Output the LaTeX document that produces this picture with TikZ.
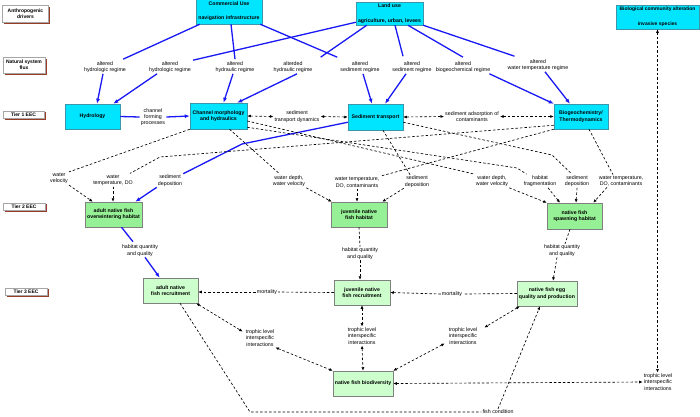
\documentclass[tikz,border=0pt]{standalone}
\usepackage{fontspec}
\setmainfont{Liberation Sans}
\usetikzlibrary{arrows.meta,calc,shadows}
\definecolor{cyanfill}{RGB}{0,229,255}
\definecolor{cyanedge}{RGB}{60,150,170}
\definecolor{gtwo}{RGB}{150,240,150}
\definecolor{gthree}{RGB}{204,255,204}
\definecolor{shadowbrown}{RGB}{150,60,40}
\definecolor{bluel}{RGB}{25,25,245}
\newcommand\lblfont{\fontsize{5.3}{6.3}\selectfont}
\newcommand\boxfont{\fontsize{5.2}{6.3}\selectfont\bfseries}
\newcommand\smallboxfont{\fontsize{5}{6}\selectfont\bfseries}
\tikzset{
  lbl/.style={draw=gray!70, fill=white, line width=0.4pt, font=\smallboxfont, align=center, inner sep=0pt,
    drop shadow={shadow xshift=1.5pt, shadow yshift=-1.5pt, fill=shadowbrown, opacity=1}},
  cbox/.style={draw=cyanedge, fill=cyanfill, line width=0.5pt, font=\boxfont, align=center, inner sep=0pt},
  gbox/.style={draw=gray, fill=gtwo, line width=0.5pt, font=\boxfont, align=center, inner sep=0pt},
  hbox/.style={draw=gray, fill=gthree, line width=0.5pt, font=\boxfont, align=center, inner sep=0pt},
  txt/.style={font=\lblfont, align=center, inner sep=1pt},
  bl/.style={draw=bluel, line width=1.3pt},
  bla/.style={bl, -{Latex[length=5pt,width=4pt]}},
  ds/.style={draw=black, line width=0.65pt, dash pattern=on 2.5pt off 2pt},
  dsa/.style={ds, -{Latex[length=3.5pt,width=3pt]}},
  dsb/.style={ds, {Latex[length=3.5pt,width=3pt]}-{Latex[length=3.5pt,width=3pt]}}
}
\begin{document}
\begin{tikzpicture}[x=1pt,y=-1pt]
\useasboundingbox (0,0) rectangle (700,416);
\fill[white] (0,0) rectangle (700,416);

% left tier labels
\node[lbl, minimum width=46pt, minimum height=17pt] (drv) at (25.5,13.5) {Anthropogenic\\drivers};
\node[lbl, minimum width=42pt, minimum height=16pt] (flux) at (24,65) {Natural system\\flux};
\node[lbl, minimum width=41pt, minimum height=7.5pt] (tone) at (23.5,114.5) {Tier 1 EEC};
\node[lbl, minimum width=42pt, minimum height=7.5pt] (ttwo) at (24,206.5) {Tier 2 EEC};
\node[lbl, minimum width=42pt, minimum height=7.5pt] (tthree) at (26,291.5) {Tier 3 EEC};

% cyan boxes
\node[cbox, minimum width=66pt, minimum height=26pt] (com) at (229,11) {Commercial Use\\[8pt]navigation infrastructure};
\node[cbox, minimum width=67pt, minimum height=23pt] (land) at (389.5,13.5) {Land use\\[9pt]agriculture, urban, levees};
\node[cbox, font=\smallboxfont, minimum width=83pt, minimum height=24pt] (bio) at (657.5,17) {Biological community alteration\\[9pt]invasive species};
\node[cbox, minimum width=55pt, minimum height=25pt] (hyd) at (92.5,116.5) {Hydrology};
\node[cbox, minimum width=57pt, minimum height=26pt] (chm) at (218.5,116) {Channel morphology\\and hydraulics};
\node[cbox, minimum width=55pt, minimum height=26pt] (sed) at (375.5,117) {Sediment transport};
\node[cbox, minimum width=54pt, minimum height=25pt] (bgc) at (581,116.5) {Biogeochemistry/\\Thermodynamics};

% green boxes
\node[gbox, minimum width=57pt, minimum height=25pt] (ahab) at (113.5,214.5) {adult native fish\\overwintering habitat};
\node[gbox, minimum width=56pt, minimum height=25pt] (jhab) at (359,214.5) {juvenile native\\fish habitat};
\node[gbox, minimum width=55pt, minimum height=26pt] (shab) at (574.5,216) {native fish\\spawning habitat};
\node[hbox, minimum width=55pt, minimum height=25pt] (arec) at (170.5,290.5) {adult native\\fish recruitment};
\node[hbox, minimum width=56pt, minimum height=25pt] (jrec) at (362,292.5) {juvenile native\\fish recruitment};
\node[hbox, minimum width=60pt, minimum height=25pt] (egg) at (547,293.5) {native fish egg\\quality and production};
\node[hbox, minimum width=60pt, minimum height=25pt] (bdiv) at (363,383.5) {native fish biodiversity};

% flux labels
\node[txt] (f1) at (105,67) {altered\\hydrologic regime};
\node[txt] (f2) at (170,67) {altered\\hydrologic regime};
\node[txt] (f3) at (235,67) {altered\\hydraulic regime};
\node[txt] (f4) at (293,67) {alterded\\hydraulic regime};
\node[txt] (f5) at (360,67) {altered\\sediment regime};
\node[txt] (f6) at (412,67) {altered\\sediment regime};
\node[txt] (f7) at (463,67) {altered\\biogeochemical regime};
\node[txt] (f8) at (538,65) {altered\\water temperature regime};

% tier 1 labels
\node[txt] (cfp) at (153,117) {channel\\forming\\processes};
\node[txt] (std) at (297,116.5) {sediment\\transport dynamics};
\node[txt] (sac) at (472,116.5) {sediment adsorption of\\contaminants};

% tier 2 input labels
\node[txt] (wv) at (59,178.5) {water\\velocity};
\node[txt] (wtd) at (113,180) {water\\temperature, DO};
\node[txt] (sdone) at (170,180.5) {sediment\\deposition};
\node[txt] (wdvone) at (289,181) {water depth,\\water velocity};
\node[txt] (wtdcone) at (357,182.5) {water temperature,\\DO, contaminants};
\node[txt] (sdtwo) at (417,181.5) {sediment\\deposition};
\node[txt] (wdvtwo) at (492,181) {water depth,\\water velocity};
\node[txt] (hfr) at (540,181) {habitat\\fragmentation};
\node[txt] (sdthree) at (577,181) {sediment\\deposition};
\node[txt] (wtdctwo) at (621,181) {water temperature,\\DO, contaminants};

% tier 3 labels
\node[txt] (hqone) at (140,250.5) {habitat quantity\\and quality};
\node[txt] (hqtwo) at (360,253.5) {habitat quantity\\and quality};
\node[txt] (hqthree) at (562,250.5) {habitat quantity\\and quality};
\node[txt] (mortone) at (267,292) {mortality};
\node[txt] (morttwo) at (452,294) {mortality};
\node[txt] (tlone) at (260,338) {trophic level\\interspecific\\interactions};
\node[txt] (tltwo) at (362,336) {trophic level\\interspecific\\interactions};
\node[txt] (tlthree) at (463,336) {trophic level\\interspecific\\interactions};
\node[txt] (tlfour) at (658,382) {trophic level\\interspecific\\interactions};
\node[txt] (fc) at (498,412) {fish condition};

% bend points
\coordinate (kone) at (242,144);
\coordinate (ktwo) at (160,157);
\coordinate (kthree) at (517,168);
\coordinate (kfour) at (552,155);
\coordinate (kfive) at (250,412);

% blue connectors
\draw[bl] ($(com.south west)+(4,0)$) -- ($(f1.north east)+(-4,-1)$);
\draw[bla] ($(f1.south)+(-2,0)$) -- ($(hyd.north)+(4.5,0)$);
\draw[bl] ($(land.south west)+(0,-3)$) -- ($(f2.north east)+(1,0)$);
\draw[bla] ($(f2.south)+(-13,0)$) -- ($(hyd.north east)+(-7,0)$);
\draw[bl] ($(com.south)+(2,0)$) -- ($(f3.north)+(0,-1)$);
\draw[bla] ($(f3.south)+(-2,0)$) -- ($(chm.north)+(5,0)$);
\draw[bl] ($(land.south west)+(11,0)$) -- ($(f4.north east)+(7,-3)$);
\draw[bla] ($(f4.south)+(4,0)$) -- ($(chm.north east)+(-10,0)$);
\draw[bl] ($(com.south east)+(-2,0)$) -- ($(f5.north west)+(-2,-3)$);
\draw[bla] ($(f5.south)+(3,0)$) -- ($(sed.north)+(-3.5,0)$);
\draw[bl] ($(land.south)+(5.5,0)$) -- ($(f6.north)+(-9,-4)$);
\draw[bla] ($(f6.south)+(-6,0)$) -- ($(sed.north)+(9.5,0)$);
\draw[bl] ($(land.south)+(18.5,0)$) -- ($(f7.north)+(0,-3)$);
\draw[bla] ($(f7.south east)+(-2,0)$) -- (bgc.north west);
\draw[bl] (land.south east) -- ($(f8.north west)+(8,-2)$);
\draw[bla] ($(f8.south)+(7,0)$) -- ($(bgc.north)+(-11,0)$);
\draw[bl] (hyd.east) -- (cfp.west);
\draw[bla] (cfp.east) -- (chm.west);
\draw[bl] ($(sed.south west)+(0,-8)$) -- (kone) -- (sdone.north east);
\draw[bla] (sdone.south west) -- ($(ahab.north east)+(-7,0)$);
\draw[bl] ($(ahab.south)+(8,0)$) -- ($(hqone.north)+(-7,-2)$);
\draw[bla] ($(hqone.south)+(5,0)$) -- ($(arec.north west)+(17,0)$);

% dashed connectors, tier 1
\draw[dsb] (chm.east) -- (std.west);
\draw[dsb] (std.east) -- (sed.west);
\draw[dsb] (sed.east) -- (sac.west);
\draw[dsb] (sac.east) -- (bgc.west);

% tier 1 -> tier 2
\draw[ds] (chm.south west) -- (wv.north east);
\draw[dsa] (wv.south east) -- ($(ahab.north west)+(8,0)$);
\draw[ds] ($(bgc.south west)+(0,-4)$) -- (ktwo) -- ($(wtd.north east)+(-4,0)$);
\draw[dsa] (wtd.south) -- (wtd.south |- ahab.north);
\draw[ds] ($(chm.south)+(11,0)$) -- ($(wdvone.north)+(-9,0)$);
\draw[dsa] (wdvone.south east) -- ($(jhab.north west)+(1,0)$);
\draw[ds] (bgc.south west) -- (wtdcone.north east);
\draw[dsa] (wtdcone.south) -- (wtdcone.south |- jhab.north);
\draw[ds] ($(sed.south)+(7.5,0)$) -- ($(sdtwo.north)+(-7,0)$);
\draw[dsa] (sdtwo.south west) -- ($(jhab.north east)+(-5,0)$);
\draw[ds] ($(chm.east)+(0,5)$) -- (wdvtwo.north west);
\draw[dsa] (wdvtwo.south east) -- (shab.north west);
\draw[ds] ($(chm.south east)+(0,-2)$) -- (kthree) -- ($(hfr.north west)+(4,0)$);
\draw[dsa] ($(hfr.south)+(8,0)$) -- ($(shab.north)+(-14.5,0)$);
\draw[ds] ($(sed.south east)+(0,-8)$) -- (kfour) -- ($(sdthree.north)+(-5,0)$);
\draw[dsa] (sdthree.south) -- ($(shab.north)+(1.5,0)$);
\draw[ds] ($(bgc.south)+(8,0)$) -- ($(wtdctwo.north)+(-8,0)$);
\draw[dsa] ($(wtdctwo.south)+(-14,0)$) -- ($(shab.north east)+(-9,0)$);

% tier 2 -> tier 3
\draw[ds] (jhab.south) -- (hqtwo.north);
\draw[dsa] (hqtwo.south) -- (hqtwo.south |- jrec.north);
\draw[ds] ($(shab.south)+(-4.5,0)$) -- ($(hqthree.north)+(3,0)$);
\draw[dsa] ($(hqthree.south)+(-5,0)$) -- ($(egg.north)+(6,0)$);

% tier 3
\draw[ds] (jrec.west) -- (mortone.east);
\draw[dsa] (mortone.west) -- ($(arec.east)+(0,1.5)$);
\draw[ds] (egg.west) -- (morttwo.east);
\draw[dsa] (morttwo.west) -- (jrec.east);
\draw[dsb] ($(arec.south east)+(-2,0)$) -- ($(tlone.north west)+(-2,3)$);
\draw[dsb] (tlone.south east) -- (bdiv.north west);
\draw[dsb] (jrec.south) -- (tltwo.north);
\draw[dsb] (tltwo.south) -- (bdiv.north);
\draw[dsb] ($(egg.south west)+(3,0)$) -- ($(tlthree.north east)+(6,1)$);
\draw[dsb] ($(tlthree.south west)+(-3,-2)$) -- (bdiv.north east);
\draw[dsb] (bdiv.east) -- (tlfour.west);
\draw[dsb] (bio.south) -- (bio.south |- tlfour.north);
\draw[ds] ($(arec.south)+(9.5,0)$) -- (kfive) -- (fc.west);
\draw[dsa] (fc.north) -- ($(egg.south)+(-7,0)$);
\end{tikzpicture}
\end{document}
